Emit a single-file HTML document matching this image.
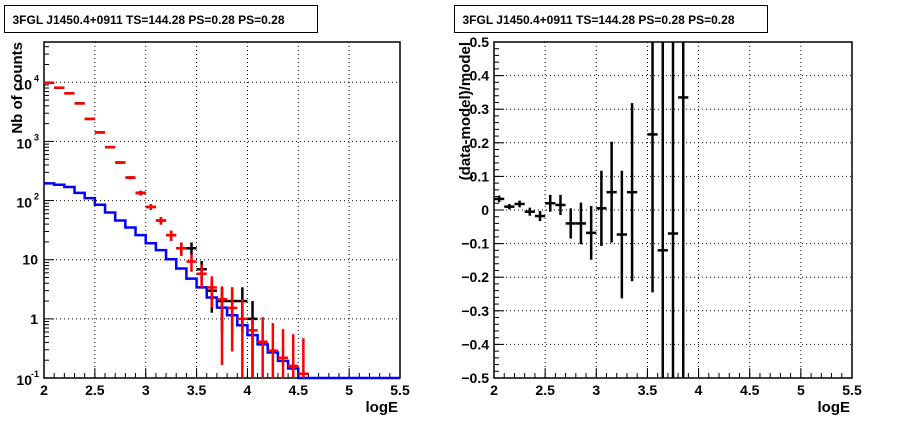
<!DOCTYPE html>
<html><head><meta charset="utf-8"><style>
body{margin:0;background:#fff;}
svg text{font-family:"Liberation Sans",sans-serif;font-weight:bold;}
</style></head><body>
<svg id="c" width="898" height="421" xmlns="http://www.w3.org/2000/svg"></svg>
<script>
const binStarts = [2.0,2.1,2.2,2.3,2.4,2.5,2.6,2.7,2.8,2.9,3.0,3.1,3.2,3.3,3.4,3.5,3.6,3.7,3.8,3.9,4.0,4.1,4.2,4.3,4.4,4.5];
const modelTotal = [9800,8100,6500,4400,2400,1420,800,440,245,133,78,46,26,15.6,9.3,5.8,3.4,2.15,1.53,1.0,0.64,0.41,0.29,0.22,0.16,0.118];
const modelHi = [null,null,null,null,null,null,null,null,null,null,null,null,null,null,null,null,null,3.55,3.4,2.15,1.0,1.07,0.85,0.67,0.55,0.47];
const modelLo = [null,null,null,null,null,null,null,null,null,null,null,null,null,null,null,null,null,0.166,0.28,0.01,0.01,0.01,0.01,0.01,0.01,0.01];
const dataCounts = [9800,8100,6500,4400,2400,1420,800,440,245,135,78,46,26,15.6,15.6,6.9,3.0,2.0,2.0,2.0,1.0,0,0,0,0,0];
const srcStarts = [2.0,2.1,2.2,2.3,2.4,2.5,2.6,2.7,2.8,2.9,3.0,3.1,3.2,3.3,3.4,3.5,3.6,3.7,3.8,3.9,4.0,4.1,4.2,4.3,4.4,4.5,4.6,4.7,4.8,4.9,5.0,5.1,5.2,5.3,5.4];
const srcModel = [195,185,170,135,110,85,63,46,35,26,19,14.5,10.2,7.1,4.8,3.4,2.3,1.55,1.15,0.78,0.53,0.37,0.27,0.195,0.145,0.05,0.05,0.05,0.05,0.05,0.05,0.05,0.05,0.05,0.05];
const resCenters = [2.05,2.15,2.25,2.35,2.45,2.55,2.65,2.75,2.85,2.95,3.05,3.15,3.25,3.35,3.55,3.65,3.75,3.85];
const resValues = [0.033,0.01,0.018,-0.005,-0.018,0.02,0.015,-0.04,-0.04,-0.068,0.005,0.053,-0.073,0.053,0.225,-0.12,-0.07,0.335];
const resErrors = [0.01,0.008,0.01,0.012,0.015,0.025,0.03,0.045,0.062,0.08,0.112,0.15,0.19,0.265,0.47,0.8,0.9,1.0];
const xTicks = ["2","2.5","3","3.5","4","4.5","5","5.5"];
const resTicks = ["0.5","0.4","0.3","0.2","0.1","0","\u22120.1","\u22120.2","\u22120.3","\u22120.4","\u22120.5"];

const svg=document.getElementById('c');
const NS='http://www.w3.org/2000/svg';
function mk(tag,attrs,name){const e=document.createElementNS(NS,tag);for(const k in attrs)e.setAttribute(k,attrs[k]);


svg.appendChild(e);return e;}
function line(x1,y1,x2,y2,st,w,name,extra){const a={x1,y1,x2,y2,stroke:st,'stroke-width':w};Object.assign(a,extra||{});return mk('line',a,name);}
function txt(x,y,s,size,name,anchor,extra){const a={x,y,'font-size':size,'text-anchor':anchor||'middle'};Object.assign(a,extra||{});const t=mk('text',a,name);t.textContent=s;return t;}

const L={x0:44,x1:400,y0:42,y1:378};
const lx=v=>L.x0+(v-2)/3.5*(L.x1-L.x0);
const ly=v=>L.y1-(Math.log10(Math.max(v,0.1))+1)/((Math.log10(48000)+1))*(L.y1-L.y0);
const R={x0:494,x1:852,y0:42,y1:378};
const rx=v=>R.x0+(v-2)/3.5*(R.x1-R.x0);
const ry=v=>R.y1-(Math.max(-0.5,Math.min(0.5,v))+0.5)*(R.y1-R.y0);

function titleBox(x,name){mk('rect',{x:x,y:5.5,width:313,height:27,fill:'#fff',stroke:'#000','stroke-width':1},name+'-box');
txt(x+8,24,'3FGL J1450.4+0911 TS=144.28 PS=0.28 PS=0.28',12,name,'start');}
titleBox(4.5,'left-title');titleBox(454.5,'right-title');

const dash={'stroke-dasharray':'1,3'};
xTicks.forEach((t,i)=>{const v=2+i*0.5;
 if(i>0&&i<7){line(lx(v),L.y0,lx(v),L.y1,'#000',1,'left-grid-x',dash);line(rx(v),R.y0,rx(v),R.y1,'#000',1,'right-grid-x',dash);}
 txt(lx(v),395,t,14,'left-x-tick-label');txt(rx(v),395,t,14,'right-x-tick-label');
 line(lx(v),L.y1,lx(v),L.y1-10,'#000',1,'left-x-major-tick');line(rx(v),R.y1,rx(v),R.y1-10,'#000',1,'right-x-major-tick');
});
for(let v=2.1;v<5.5;v+=0.1){line(lx(v),L.y1,lx(v),L.y1-5,'#000',1,'left-x-minor-tick');line(rx(v),R.y1,rx(v),R.y1-5,'#000',1,'right-x-minor-tick');}
for(let d=-1;d<=4;d++){const y=ly(Math.pow(10,d));
 if(d>-1)line(L.x0,y,L.x1,y,'#000',1,'left-grid-y',dash);
 line(L.x0,y,L.x0+10,y,'#000',1,'left-y-major-tick');
 for(let m=2;m<10;m++){const v=m*Math.pow(10,d);if(v<48000){line(L.x0,ly(v),L.x0+5,ly(v),'#000',1,'left-y-minor-tick');}}
}
const ylab=[[-1,'10','-1'],[0,'1',''],[1,'10',''],[2,'10','2'],[3,'10','3'],[4,'10','4']];
ylab.forEach(([d,b,s])=>{const y=ly(Math.pow(10,d))+5;
 if(s){txt(32,y+2,b,14,'left-y-tick-label','end');txt(39,y-6,s,9,'left-y-tick-exponent','end');}
 else txt(38,y,b,14,'left-y-tick-label','end');});
mk('rect',{x:L.x0,y:L.y0,width:L.x1-L.x0,height:L.y1-L.y0,fill:'none',stroke:'#000','stroke-width':1.5},'left-plot-frame');
txt(0,0,'Nb of counts',15,'left-y-axis-title','end',{transform:'translate(22 42) rotate(-90)'});
txt(398,412,'logE',15,'left-x-axis-title','end');

resTicks.forEach((t,i)=>{const v=0.5-i*0.1;const y=ry(v);
 if(i>0&&i<10)line(R.x0,y,R.x1,y,'#000',1,'right-grid-y',dash);
 line(R.x0,y,R.x0+10,y,'#000',1,'right-y-major-tick');
 txt(489,y+5,t,14,'right-y-tick-label','end');});
for(let v=-0.48;v<0.5;v+=0.02){line(R.x0,ry(v),R.x0+5,ry(v),'#000',1,'right-y-minor-tick');}
mk('rect',{x:R.x0,y:R.y0,width:R.x1-R.x0,height:R.y1-R.y0,fill:'none',stroke:'#000','stroke-width':1.5},'right-plot-frame');
txt(0,0,'(data-model)/model',15,'right-y-axis-title','end',{transform:'translate(470 42) rotate(-90)'});
txt(850,412,'logE',15,'right-x-axis-title','end');

let d='';srcStarts.forEach((s,i)=>{const y=ly(srcModel[i]);d+=(i===0?'M':'L')+lx(s)+','+y+' L'+lx(s+0.1)+','+y+' ';});
mk('path',{d:d,fill:'none',stroke:'#0000ff','stroke-width':2.5},'source-model-histogram');

dataCounts.forEach((n,i)=>{if(n<=0)return;const c=binStarts[i]+0.05;const e=Math.sqrt(n);
 const y=ly(n);line(lx(binStarts[i]),y,lx(binStarts[i]+0.1),y,'#000',2.5,'data-point-bar');
 line(lx(c),ly(n+e),lx(c),ly(n-e>0.1?n-e:0.1),'#000',2.5,'data-point-error');});
modelTotal.forEach((n,i)=>{const c=binStarts[i]+0.05;const e=Math.sqrt(n);
 const hi=modelHi[i]!==null?modelHi[i]:n+e;const lo=modelLo[i]!==null?modelLo[i]:n-e;
 const y=ly(n);line(lx(binStarts[i]),y,lx(binStarts[i]+0.1),y,'#ff0000',2.5,'model-point-bar');
 line(lx(c),ly(hi),lx(c),ly(Math.max(lo,0.1)),'#ff0000',2.5,'model-point-error');});

resCenters.forEach((c,i)=>{const v=resValues[i],e=resErrors[i];
 line(rx(c-0.05),ry(v),rx(c+0.05),ry(v),'#000',2.5,'residual-bar');
 line(rx(c),ry(v+e),rx(c),ry(v-e),'#000',2.5,'residual-error');});
</script>
</body></html>
